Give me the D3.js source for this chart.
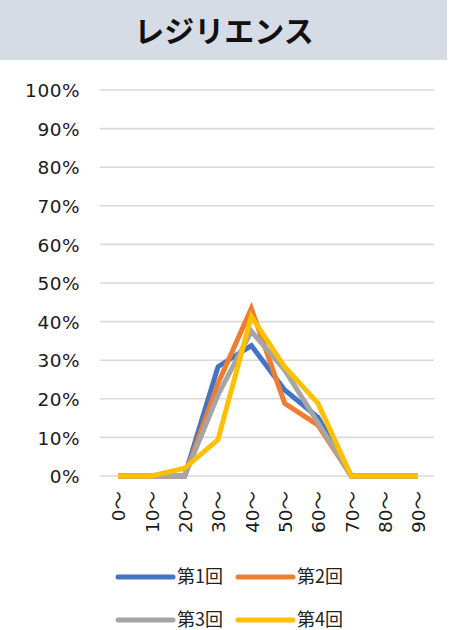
<!DOCTYPE html>
<html><head><meta charset="utf-8">
<script src="https://cdn.jsdelivr.net/npm/d3@7"></script>
<style>body{margin:0;background:#fff;}svg{display:block;}</style>
</head><body>
<script>
const title = "レジリエンス";
const categories = ["0～","10～","20～","30～","40～","50～","60～","70～","80～","90～"];
const seriesNames = ["第1回","第2回","第3回","第4回"];
const s1 = [0,0,0,28.3,33.8,22.3,15.2,0,0,0];
const s2 = [0,0,0,24.0,43.4,18.8,13.2,0,0,0];
const s3 = [0,0,0,21.0,37.5,27.5,13.8,0,0,0];
const s4 = [0,0,2.0,9.4,41.3,28.3,18.8,0,0,0];
const yTicks = [0,10,20,30,40,50,60,70,80,90,100];
const colors = ["#4472C4","#ED7D31","#A5A5A5","#FFC000"];

const W=449,H=630;
const svg=d3.select("body").append("svg").attr("width",W).attr("height",H);
svg.append("rect").attr("x",0).attr("y",0).attr("width",447).attr("height",60).attr("fill","#d6dce5");
svg.append("text").attr("x",224).attr("y",42).attr("text-anchor","middle")
  .attr("font-family","'Noto Sans CJK JP'").attr("font-weight","bold").attr("font-size",30).attr("fill","#111").text(title);

const x=d3.scalePoint().domain(categories).range([118,418]);
const y=d3.scaleLinear().domain([0,100]).range([476,90]);

const grid=svg.append("g");
grid.selectAll("line").data(yTicks).join("line")
  .attr("x1",100).attr("x2",434).attr("y1",d=>y(d)).attr("y2",d=>y(d))
  .attr("stroke","#d9d9d9").attr("stroke-width",1.6);

const yAxis=svg.append("g").attr("transform","translate(80,0)")
  .call(d3.axisLeft(y).tickValues(yTicks).tickSize(0).tickPadding(0).tickFormat(d=>d+"%"));
yAxis.select(".domain").remove();
yAxis.selectAll("text").attr("font-family","'DejaVu Sans'").attr("font-size",18.5).attr("fill","#1a1a1a")
  .attr("dy","0.36em").attr("letter-spacing","0.5px");

const xAxis=svg.append("g").attr("transform","translate(0,491)")
  .call(d3.axisBottom(x).tickSize(0).tickPadding(0));
xAxis.select(".domain").remove();
xAxis.selectAll("text").each(function(d){
  const t=d3.select(this);
  t.text(null).attr("transform","rotate(-90)").attr("text-anchor","end").attr("x",0).attr("y",0).attr("dy","0.36em")
   .attr("font-size",18.5).attr("fill","#1a1a1a");
  const num=d.replace("～","");
  t.append("tspan").attr("font-family","'DejaVu Sans'").text(num);
  t.append("tspan").attr("font-family","'Noto Sans CJK JP'").text("～");
});

const all=[s1,s2,s3,s4];
const line=d3.line().x((d,i)=>x(categories[i])).y(d=>y(d));
svg.append("g").selectAll("path").data(all).join("path")
  .attr("d",line).attr("fill","none").attr("stroke",(d,i)=>colors[i])
  .attr("stroke-width",5).attr("stroke-linejoin","miter").attr("stroke-linecap","butt");

const legPos=[[118,577],[238,577],[118,620],[238,620]];
const leg=svg.append("g").selectAll("g").data(seriesNames).join("g")
  .attr("transform",(d,i)=>`translate(${legPos[i][0]},${legPos[i][1]})`);
leg.append("line").attr("x1",0).attr("x2",55).attr("y1",0).attr("y2",0)
  .attr("stroke",(d,i)=>colors[i]).attr("stroke-width",5).attr("stroke-linecap","round");
leg.append("text").attr("x",59).attr("y",0).attr("dy","0.36em")
  .attr("font-family","'Noto Sans CJK JP'").attr("font-size",18).attr("fill","#222").text(d=>d);
</script>
</body></html>
